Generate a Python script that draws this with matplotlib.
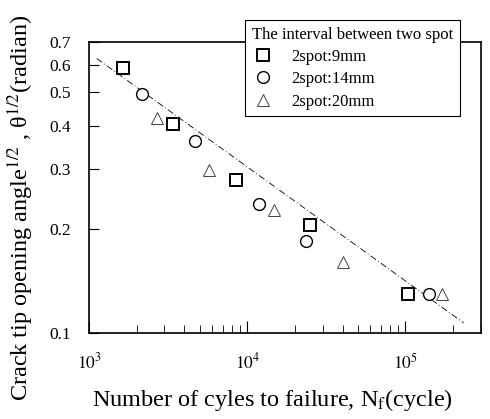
import numpy as np
import matplotlib
matplotlib.use("Agg")
import matplotlib.pyplot as plt

plt.rcParams['font.family'] = ['Liberation Serif', 'DejaVu Serif']
plt.rcParams['mathtext.fontset'] = 'stix'

# data
nf_9mm = [1640, 3400, 8500, 25000, 103000]
th_9mm = [0.59, 0.405, 0.279, 0.206, 0.130]

nf_14mm = [2160, 4700, 11800, 23600, 140000]
th_14mm = [0.495, 0.362, 0.237, 0.185, 0.130]

nf_20mm = [2700, 5750, 14800, 40500, 171000]
th_20mm = [0.420, 0.298, 0.228, 0.161, 0.130]

# fitted line endpoints
fit_nf = [1120, 233000]
fit_th = [0.627, 0.107]

y_ticks = [0.1, 0.2, 0.3, 0.4, 0.5, 0.6, 0.7]
x_ticks = [1e3, 1e4, 1e5]
x_labels = ['$10^3$', '$10^4$', '$10^5$']

fig = plt.figure(figsize=(4.9, 4.19), dpi=100)
ax = fig.add_axes([0.1816, 0.2053, 0.8, 0.6945])

ax.plot(fit_nf, fit_th, color='black', lw=0.6, ls=(0, (8, 3, 1, 3)))
ax.plot(nf_9mm, th_9mm, 's', ms=8, mfc='white', mec='black', mew=1.4, label='2spot:9mm')
ax.plot(nf_14mm, th_14mm, 'o', ms=8.5, mfc='white', mec='black', mew=1.0, label='2spot:14mm')
ax.plot(nf_20mm, th_20mm, '^', ms=9, mfc='white', mec='#444444', mew=0.7, label='2spot:20mm')

ax.set_xscale('log')
ax.set_yscale('log')
ax.set_xlim(1e3, 3e5)
ax.set_ylim(0.1, 0.7)

ax.set_yticks(y_ticks)
ax.set_yticklabels([str(t) for t in y_ticks])
ax.yaxis.set_minor_locator(matplotlib.ticker.NullLocator())
ax.set_xticks(x_ticks)
ax.set_xticklabels(x_labels)

ax.tick_params(axis='both', which='both', direction='in', labelsize=12.5)
ax.tick_params(axis='y', which='major', length=7, pad=13)
ax.tick_params(axis='x', which='major', length=9, pad=14)
ax.tick_params(axis='x', which='minor', length=6)

for s in ax.spines.values():
    s.set_linewidth(1.2)

ax.set_xlabel('Number of cyles to failure, N$_\\mathrm{f}$(cycle)', fontsize=17.5)
ax.set_ylabel('Crack tip opening angle$^{1/2}$ , θ$^{1/2}$(radian)', fontsize=17.5)

leg = ax.legend(title='The interval between two spot', loc='upper left',
                bbox_to_anchor=(0.398, 1.076), borderaxespad=0,
                fontsize=12, title_fontsize=12,
                fancybox=False, edgecolor='black', framealpha=1, handletextpad=1.0,
                borderpad=0.4, labelspacing=0.38, handlelength=1.4)
leg.get_frame().set_linewidth(0.8)
leg._legend_box.align = 'left'
ax.yaxis.set_label_coords(-0.135, 0.43)
ax.xaxis.set_label_coords(0.469, -0.185)

fig.savefig('out.png', dpi=100)
